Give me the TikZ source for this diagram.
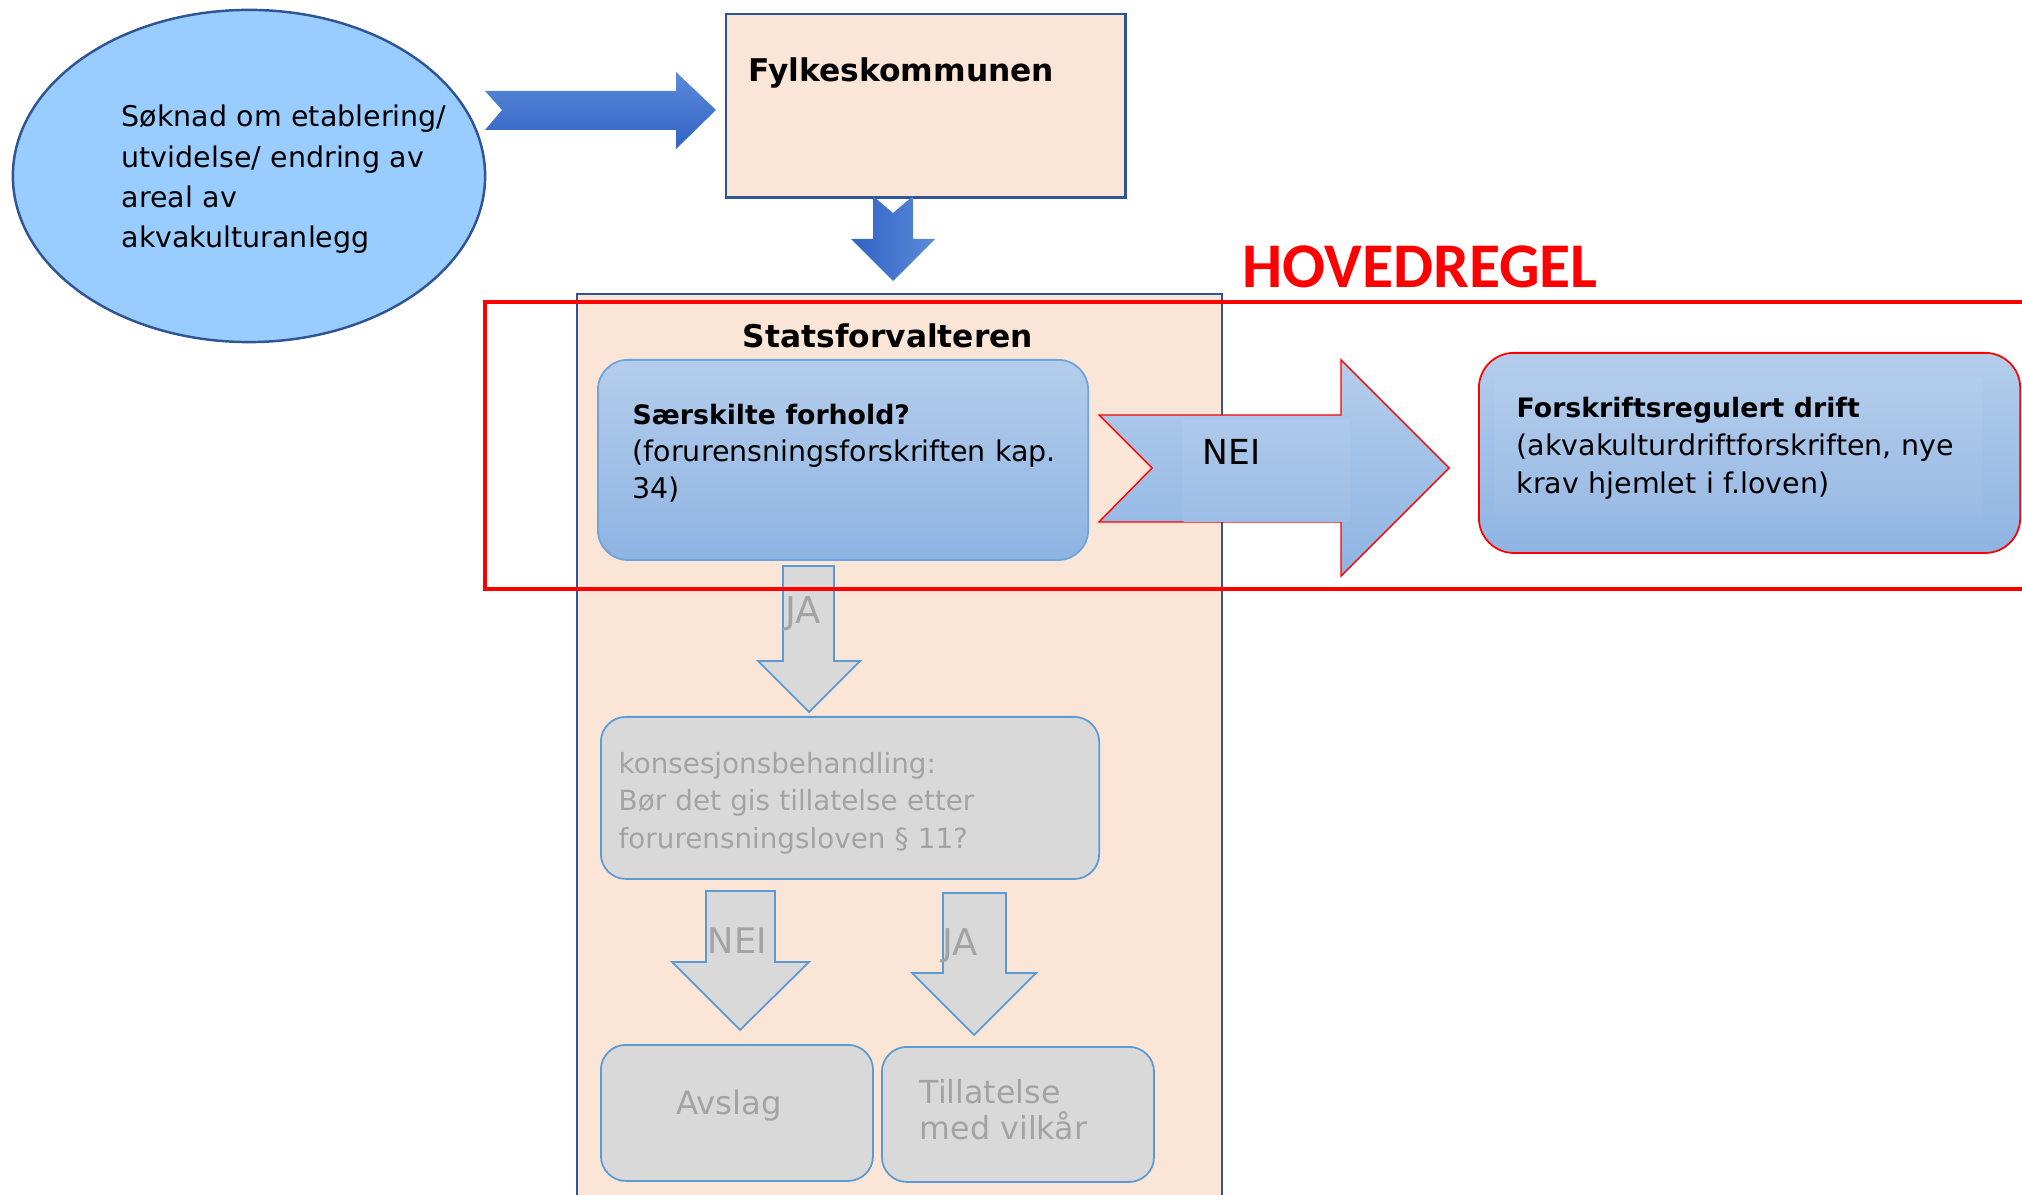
\documentclass[tikz,border=0pt]{standalone}
\usepackage{fontspec}
\setmainfont{DejaVu Sans}
\newfontfamily\hovedfont{Carlito}
\usetikzlibrary{shapes.geometric}

\definecolor{soknadblue}{HTML}{99CCFF}
\definecolor{frameblue}{HTML}{2F5597}
\definecolor{peach}{HTML}{FBE5D6}
\definecolor{arrowlight}{HTML}{5B8BD9}
\definecolor{arrowdark}{HTML}{3162C4}
\definecolor{boxtop}{HTML}{B4CDEB}
\definecolor{boxbottom}{HTML}{8EB4E3}
\definecolor{boxline}{HTML}{6FA3DE}
\definecolor{greyfill}{HTML}{D9D9D9}
\definecolor{greytext}{HTML}{A3A3A3}
\definecolor{greyline}{HTML}{5B9BD5}
\definecolor{ruleRed}{HTML}{FF0000}

\tikzset{
  framebox/.style={draw=frameblue, line width=0.7pt, fill=peach, anchor=north west},
  bluebox/.style={draw=boxline, line width=0.5pt, top color=boxtop, bottom color=boxbottom,
    rounded corners=0.3cm, anchor=north west},
  textpanel/.style={anchor=north west, inner sep=0pt},
  greybox/.style={draw=greyline, line width=0.5pt, fill=greyfill, rounded corners=0.25cm, anchor=north west},
  greyarrow/.style={draw=greyline, line width=0.5pt, fill=greyfill},
  bluearrow/.style={draw=none},
  bodytext/.style={anchor=base west, inner sep=0pt, align=left, font=\fontsize{8.1}{10.4}\selectfont},
  titletext/.style={anchor=base west, inner sep=0pt, font=\bfseries\fontsize{8.9}{10}\selectfont},
  greylabel/.style={anchor=base west, inner sep=0pt, text=greytext, font=\fontsize{10.5}{12}\selectfont}
}

\begin{document}
\begin{tikzpicture}[x=0.01cm, y=-0.01cm]
\useasboundingbox (0,0) rectangle (2022,1195);

% Soknad
\node[ellipse, draw=frameblue, line width=0.7pt, fill=soknadblue, inner sep=0pt,
  minimum width=4.72cm, minimum height=3.32cm] (soknad) at (249,176) {};
\node[bodytext, text width=3.6cm, font=\fontsize{8.1}{11.4}\selectfont] (soknadtext) at (121,127)
  {Søknad om etablering/\\utvidelse/ endring av\\areal av\\akvakulturanlegg};

% Arrow to Fylkeskommunen
\shade[bluearrow, top color=arrowlight, bottom color=arrowdark]
  (485,91) -- (676,91) -- (676,72) -- (716,110) -- (676,149) -- (676,130) -- (485,130) -- (502,110) -- cycle;

% Fylkeskommunen
\node[framebox, minimum width=3.99cm, minimum height=1.83cm] (fylke) at (725,13) {};
\node[titletext] (fylketitle) at (748,82) {Fylkeskommunen};

% Arrow down
\shade[bluearrow, left color=arrowdark, right color=arrowlight]
  (873,196) -- (893,213) -- (913,196) -- (913,239) -- (935,239) -- (893,281) -- (851,239) -- (873,239) -- cycle;

% Statsforvalteren
\fill[peach] (577,294) rectangle (1222,1195);
\draw[frameblue, line width=0.7pt] (577,1195) |- (1222,294) -- (1222,1195);
\node[titletext, anchor=base] (statstitle) at (888,348) {Statsforvalteren};

% Saerskilte forhold
\node[bluebox, minimum width=4.90cm, minimum height=2.00cm] (saerskilt) at (597,359) {};
\node[bodytext, text width=4.4cm] (saerskilttext) at (632,425)
  {{\bfseries\fontsize{7.6}{10.4}\selectfont Særskilte forhold?}\\(forurensningsforskriften kap.\\34)};

% NEI arrow
\shade[top color=boxtop, bottom color=boxbottom, draw=ruleRed, line width=0.4pt]
  (1099,415) -- (1341,415) -- (1341,360) -- (1449,468) -- (1341,576) -- (1341,522) -- (1099,522) -- (1152,468) -- cycle;
\node[textpanel, top color={rgb,255:red,174;green,201;blue,234}, bottom color={rgb,255:red,157;green,189;blue,230},
  minimum width=1.66cm, minimum height=1.02cm] (neipanel) at (1183,419) {};
\node[anchor=base west, inner sep=0pt, font=\fontsize{9.8}{11}\selectfont] (neitext) at (1202,465) {NEI};

% Forskriftsregulert drift
\node[bluebox, draw=ruleRed, rounded corners=0.35cm, minimum width=5.41cm, minimum height=2.00cm] (forskrift) at (1478,352) {};
\node[textpanel, top color={rgb,255:red,178;green,204;blue,235}, bottom color={rgb,255:red,154;green,187;blue,229},
  minimum width=4.87cm, minimum height=1.37cm] (forskriftpanel) at (1495,378) {};
\node[bodytext, text width=5.0cm, font=\fontsize{8.1}{10.7}\selectfont] (forskrifttext) at (1516,418)
  {{\bfseries\fontsize{7.6}{10.7}\selectfont Forskriftsregulert drift}\\(akvakulturdriftforskriften, nye\\krav hjemlet i f.loven)};

% HOVEDREGEL
\node[anchor=base, inner sep=0pt, text=ruleRed, font=\hovedfont\bfseries\fontsize{18.1}{20}\selectfont]
  (hovedregel) at (1420,288) {HOVEDREGEL};

% JA down to konsesjonsbehandling
\draw[greyarrow] (783,566) -- (834,566) -- (834,661) -- (860,661) -- (809,712) -- (758,661) -- (783,661) -- cycle;
\node[greylabel] (jaone) at (785,624) {JA};

% konsesjonsbehandling
\node[greybox, minimum width=4.98cm, minimum height=1.62cm] (konsesjon) at (600,716) {};
\node[bodytext, text=greytext, text width=4.6cm, font=\fontsize{7.9}{10.8}\selectfont] (konsesjontext) at (618,773)
  {konsesjonsbehandling:\\Bør det gis tillatelse etter\\forurensningsloven § 11?};

% NEI / JA
\draw[greyarrow] (706,891) -- (775,891) -- (775,962) -- (809,962) -- (740,1030) -- (672,962) -- (706,962) -- cycle;
\node[greylabel, font=\fontsize{10}{12}\selectfont] (neitwo) at (707,953) {NEI};
\draw[greyarrow] (943,893) -- (1006,893) -- (1006,973) -- (1036,973) -- (974,1035) -- (912,973) -- (943,973) -- cycle;
\node[greylabel] (jatwo) at (942,955) {JA};

% Avslag / Tillatelse
\node[greybox, minimum width=2.72cm, minimum height=1.36cm] (avslag) at (600,1044) {};
\node[greylabel, anchor=base, font=\fontsize{9.2}{10.5}\selectfont] (avslagtext) at (729,1114) {Avslag};
\node[greybox, minimum width=2.72cm, minimum height=1.35cm] (tillatelse) at (881,1046) {};
\node[greylabel, align=left, text width=2.2cm, font=\fontsize{9}{10.5}\selectfont] (tillatelsetext) at (919,1103)
  {Tillatelse\\med vilkår};

% Hovedregel frame
\draw[ruleRed, line width=0.9pt] (2022,302) -- (485,302) -- (485,589) -- (2022,589);
\end{tikzpicture}
\end{document}
